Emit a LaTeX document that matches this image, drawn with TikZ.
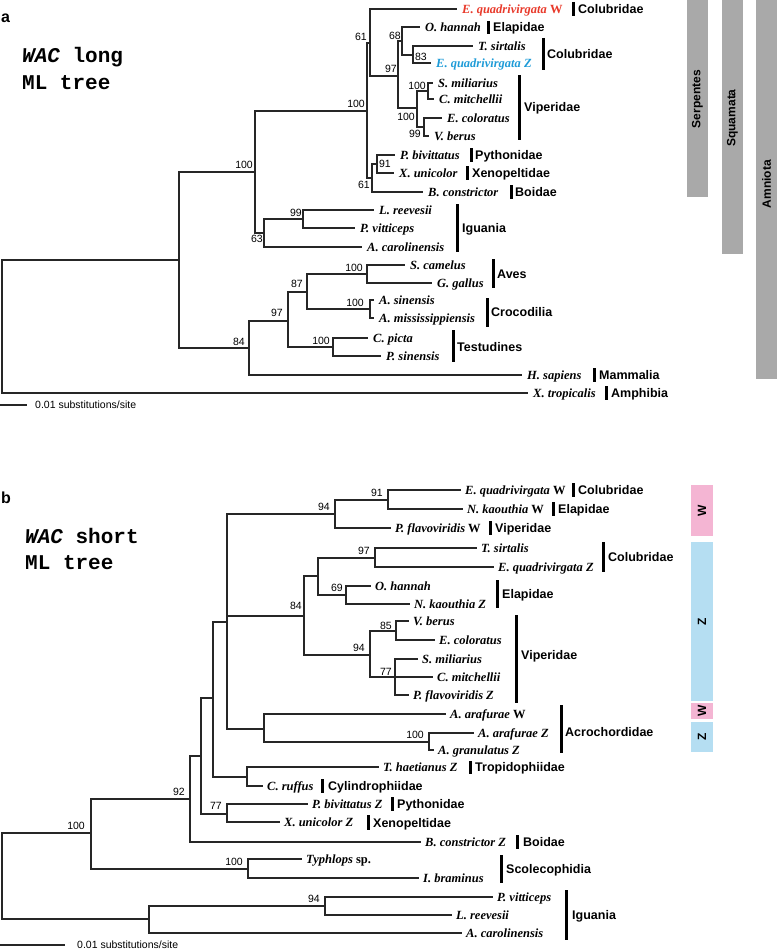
\documentclass[tikz,border=0pt]{standalone}
\usepackage{fontspec}
\setmainfont{Liberation Serif}
\setsansfont{Liberation Sans}
\setmonofont{Liberation Mono}
\definecolor{wred}{HTML}{E8392A}
\definecolor{zblue}{HTML}{1E9BD7}
\definecolor{wpink}{HTML}{F4B5D3}
\definecolor{zsky}{HTML}{B5DEF2}
\definecolor{cladegray}{HTML}{A9A9A9}

\begin{document}
\begin{tikzpicture}[x=1pt, y=-1pt,
    br/.style={line width=1.1pt, black!85},
    sp/.style={anchor=west, inner sep=0pt, text height=8.5pt, text depth=0pt, font=\fontsize{12.5}{14}\selectfont\bfseries\itshape},
    fam/.style={anchor=west, inner sep=0pt, text height=9pt, text depth=0pt, font=\fontsize{12.5}{14}\selectfont\sffamily\bfseries},
    bs/.style={anchor=east, inner sep=0pt, text height=7.5pt, text depth=0pt, font=\fontsize{10.5}{12}\selectfont\sffamily},
    famline/.style={line width=3pt, black},
    title/.style={anchor=west, inner sep=0pt, text height=12pt, text depth=0pt, font=\fontsize{21}{25}\selectfont\ttfamily\bfseries},
    panel/.style={anchor=west, inner sep=0pt, font=\fontsize{16}{18}\selectfont\sffamily\bfseries},
    barlabel/.style={rotate=90, inner sep=0pt, font=\fontsize{12}{14}\selectfont\sffamily\bfseries},
    scaletext/.style={anchor=west, inner sep=0pt, font=\fontsize{10.5}{12}\selectfont\sffamily}]
  \useasboundingbox (0,0) rectangle (777,950);

  % ---------------- panel a ----------------
  \node[panel] (pa) at (1,18) {a};
  \node[title] (ta1) at (22,57) {\textit{WAC} long};
  \node[title] (ta2) at (22,83) {ML tree};

  % clade bars
  \fill[cladegray] (687,0) rectangle (708,197);
  \fill[cladegray] (722,0) rectangle (743,254);
  \fill[cladegray] (756,0) rectangle (777,379);
  \node[barlabel] (serp) at (697.5,99) {Serpentes};
  \node[barlabel] (squa) at (732.5,118) {Squamata};
  \node[barlabel] (amni) at (766.5,184) {Amniota};

  % inner nodes
  \coordinate (a-root) at (2,326);
  \coordinate (a-amn) at (179,260);
  \coordinate (a-sqm) at (255,172);
  \coordinate (a-srp) at (367,111);
  \coordinate (a-cl1) at (370,43);
  \coordinate (a-cl2) at (398,76);
  \coordinate (a-cl3) at (402,41);
  \coordinate (a-col) at (413,55);
  \coordinate (a-vip) at (417,108);
  \coordinate (a-vp1) at (428,91);
  \coordinate (a-vp2) at (424,127);
  \coordinate (a-hen) at (372,178);
  \coordinate (a-pyx) at (377,164);
  \coordinate (a-igu) at (264,233);
  \coordinate (a-ig1) at (303,219);
  \coordinate (a-arc) at (249,348);
  \coordinate (a-ar1) at (288,321);
  \coordinate (a-ar2) at (307,292);
  \coordinate (a-ave) at (367,274);
  \coordinate (a-cro) at (370,309);
  \coordinate (a-tes) at (333,347);

  % taxa
  \node[sp, text=wred] (a-eqw) at (462,9) {E. quadrivirgata \textup{W}};
  \node[sp] (a-ohn) at (425,27) {O. hannah};
  \node[sp] (a-tsi) at (478,46) {T. sirtalis};
  \node[sp, text=zblue] (a-eqz) at (436,63) {E. quadrivirgata Z};
  \node[sp] (a-smi) at (438,83) {S. miliarius};
  \node[sp] (a-cmi) at (439,99) {C. mitchellii};
  \node[sp] (a-eco) at (447,118) {E. coloratus};
  \node[sp] (a-vbe) at (434,136) {V. berus};
  \node[sp] (a-pbi) at (400,155) {P. bivittatus};
  \node[sp] (a-xun) at (399,173) {X. unicolor};
  \node[sp] (a-bco) at (428,192) {B. constrictor};
  \node[sp] (a-lre) at (379,210) {L. reevesii};
  \node[sp] (a-pvi) at (360,228) {P. vitticeps};
  \node[sp] (a-aca) at (367,247) {A. carolinensis};
  \node[sp] (a-sca) at (410,265) {S. camelus};
  \node[sp] (a-gga) at (437,283) {G. gallus};
  \node[sp] (a-asi) at (379,300) {A. sinensis};
  \node[sp] (a-ami) at (379,318) {A. mississippiensis};
  \node[sp] (a-cpi) at (373,338) {C. picta};
  \node[sp] (a-psi) at (386,356) {P. sinensis};
  \node[sp] (a-hsa) at (527,375) {H. sapiens};
  \node[sp] (a-xtr) at (533,393) {X. tropicalis};

  % branches
  \draw[br] (a-root) |- (a-amn);
  \draw[br] (a-root) |- ([xshift=-5pt]a-xtr.west);
  \draw[br] (a-amn) |- (a-sqm);
  \draw[br] (a-amn) |- (a-arc);
  \draw[br] (a-sqm) |- (a-srp);
  \draw[br] (a-sqm) |- (a-igu);
  \draw[br] (a-srp) |- (a-cl1);
  \draw[br] (a-srp) |- (a-hen);
  \draw[br] (a-cl1) |- ([xshift=-5pt]a-eqw.west);
  \draw[br] (a-cl1) |- (a-cl2);
  \draw[br] (a-cl2) |- (a-cl3);
  \draw[br] (a-cl2) |- (a-vip);
  \draw[br] (a-cl3) |- ([xshift=-5pt]a-ohn.west);
  \draw[br] (a-cl3) |- (a-col);
  \draw[br] (a-col) |- ([xshift=-5pt]a-tsi.west);
  \draw[br] (a-col) |- ([xshift=-5pt]a-eqz.west);
  \draw[br] (a-vip) |- (a-vp1);
  \draw[br] (a-vip) |- (a-vp2);
  \draw[br] (a-vp1) |- ([xshift=-5pt]a-smi.west);
  \draw[br] (a-vp1) |- ([xshift=-5pt]a-cmi.west);
  \draw[br] (a-vp2) |- ([xshift=-5pt]a-eco.west);
  \draw[br] (a-vp2) |- ([xshift=-5pt]a-vbe.west);
  \draw[br] (a-hen) |- (a-pyx);
  \draw[br] (a-hen) |- ([xshift=-5pt]a-bco.west);
  \draw[br] (a-pyx) |- ([xshift=-5pt]a-pbi.west);
  \draw[br] (a-pyx) |- ([xshift=-5pt]a-xun.west);
  \draw[br] (a-igu) |- (a-ig1);
  \draw[br] (a-igu) |- ([xshift=-5pt]a-aca.west);
  \draw[br] (a-ig1) |- ([xshift=-5pt]a-lre.west);
  \draw[br] (a-ig1) |- ([xshift=-5pt]a-pvi.west);
  \draw[br] (a-arc) |- (a-ar1);
  \draw[br] (a-arc) |- ([xshift=-5pt]a-hsa.west);
  \draw[br] (a-ar1) |- (a-ar2);
  \draw[br] (a-ar1) |- (a-tes);
  \draw[br] (a-ar2) |- (a-ave);
  \draw[br] (a-ar2) |- (a-cro);
  \draw[br] (a-ave) |- ([xshift=-5pt]a-sca.west);
  \draw[br] (a-ave) |- ([xshift=-5pt]a-gga.west);
  \draw[br] (a-cro) |- ([xshift=-5pt]a-asi.west);
  \draw[br] (a-cro) |- ([xshift=-5pt]a-ami.west);
  \draw[br] (a-tes) |- ([xshift=-5pt]a-cpi.west);
  \draw[br] (a-tes) |- ([xshift=-5pt]a-psi.west);

  % support values
  \node[bs] (a-s1) at (253,165) {100};
  \node[bs] (a-s2) at (365,104) {100};
  \node[bs] (a-s3) at (367,37) {61};
  \node[bs] (a-s4) at (397,69) {97};
  \node[bs] (a-s5) at (401,36) {68};
  \node[bs] (a-s6) at (427,57) {83};
  \node[bs] (a-s7) at (426,86) {100};
  \node[bs] (a-s8) at (415,117) {100};
  \node[bs] (a-s9) at (421,134) {99};
  \node[bs] (a-s10) at (391,164) {91};
  \node[bs] (a-s11) at (370,185) {61};
  \node[bs] (a-s12) at (302,213) {99};
  \node[bs] (a-s13) at (263,239) {63};
  \node[bs] (a-s14) at (245,342) {84};
  \node[bs] (a-s15) at (283,313) {97};
  \node[bs] (a-s16) at (303,284) {87};
  \node[bs] (a-s17) at (363,268) {100};
  \node[bs] (a-s18) at (364,303) {100};
  \node[bs] (a-s19) at (330,341) {100};

  % families
  \draw[famline] (573,2) -- (573,16);   \node[fam] (a-f1) at (578,9) {Colubridae};
  \draw[famline] (488,21) -- (488,34);  \node[fam] (a-f2) at (493,27) {Elapidae};
  \draw[famline] (543,38) -- (543,70);  \node[fam] (a-f3) at (547,54) {Colubridae};
  \draw[famline] (519,75) -- (519,140); \node[fam] (a-f4) at (524,107) {Viperidae};
  \draw[famline] (471,148) -- (471,162); \node[fam] (a-f5) at (475,155) {Pythonidae};
  \draw[famline] (467,166) -- (467,180); \node[fam] (a-f6) at (472,173) {Xenopeltidae};
  \draw[famline] (511,185) -- (511,199); \node[fam] (a-f7) at (515,192) {Boidae};
  \draw[famline] (457,204) -- (457,252); \node[fam] (a-f8) at (462,228) {Iguania};
  \draw[famline] (493,259) -- (493,288); \node[fam] (a-f9) at (497,274) {Aves};
  \draw[famline] (487,298) -- (487,327); \node[fam] (a-f10) at (491,312) {Crocodilia};
  \draw[famline] (453,330) -- (453,362); \node[fam] (a-f11) at (457,347) {Testudines};
  \draw[famline] (594,368) -- (594,382); \node[fam] (a-f12) at (599,375) {Mammalia};
  \draw[famline] (606,386) -- (606,400); \node[fam] (a-f13) at (611,393) {Amphibia};

  % scale
  \coordinate (a-sc0) at (0,405);
  \coordinate (a-sc1) at (27,405);
  \draw[br] (a-sc0) -- (a-sc1);
  \node[scaletext] (a-sct) at (35,405) {0.01 substitutions/site};

  % ---------------- panel b ----------------
  \node[panel] (pb) at (1,498) {b};
  \node[title] (tb1) at (25,537) {\textit{WAC} short};
  \node[title] (tb2) at (25,563) {ML tree};

  % chromosome bars
  \fill[wpink] (691,485) rectangle (713,536);
  \fill[zsky] (691,542) rectangle (713,701);
  \fill[wpink] (691,703) rectangle (713,719);
  \fill[zsky] (691,722) rectangle (713,752);
  \node[barlabel] (w1) at (702,510.5) {W};
  \node[barlabel] (z1) at (702,621.5) {Z};
  \node[barlabel] (w2) at (702,711) {W};
  \node[barlabel] (z2) at (702,737) {Z};

  % inner nodes
  \coordinate (b-root) at (2,876);
  \coordinate (b-snk) at (91,833);
  \coordinate (b-alt) at (190,799);
  \coordinate (b-n1) at (201,756);
  \coordinate (b-n2) at (213,698);
  \coordinate (b-cae) at (227,622);
  \coordinate (b-wgr) at (335,514);
  \coordinate (b-w1) at (388,500);
  \coordinate (b-zgr) at (304,616);
  \coordinate (b-ce) at (318,576);
  \coordinate (b-col) at (375,558);
  \coordinate (b-ela) at (346,595);
  \coordinate (b-vip) at (370,655);
  \coordinate (b-vp1) at (396,631);
  \coordinate (b-vp2) at (395,677);
  \coordinate (b-acr) at (264,729);
  \coordinate (b-ac1) at (429,742);
  \coordinate (b-tc) at (247,777);
  \coordinate (b-pyx) at (227,814);
  \coordinate (b-sco) at (248,869);
  \coordinate (b-igu) at (149,919);
  \coordinate (b-ig1) at (325,906);

  % taxa
  \node[sp] (b-eqw) at (465,490) {E. quadrivirgata \textup{W}};
  \node[sp] (b-nkw) at (467,509) {N. kaouthia \textup{W}};
  \node[sp] (b-pfw) at (395,528) {P. flavoviridis \textup{W}};
  \node[sp] (b-tsi) at (481,548) {T. sirtalis};
  \node[sp] (b-eqz) at (498,567) {E. quadrivirgata Z};
  \node[sp] (b-ohn) at (375,586) {O. hannah};
  \node[sp] (b-nkz) at (414,604) {N. kaouthia Z};
  \node[sp] (b-vbe) at (413,621) {V. berus};
  \node[sp] (b-eco) at (439,640) {E. coloratus};
  \node[sp] (b-smi) at (422,659) {S. miliarius};
  \node[sp] (b-cmi) at (437,677) {C. mitchellii};
  \node[sp] (b-pfz) at (413,695) {P. flavoviridis Z};
  \node[sp] (b-aaw) at (450,714) {A. arafurae \textup{W}};
  \node[sp] (b-aaz) at (478,733) {A. arafurae Z};
  \node[sp] (b-agz) at (438,750) {A. granulatus Z};
  \node[sp] (b-thz) at (383,767) {T. haetianus Z};
  \node[sp] (b-cru) at (267,786) {C. ruffus};
  \node[sp] (b-pbz) at (312,804) {P. bivittatus Z};
  \node[sp] (b-xuz) at (284,822) {X. unicolor Z};
  \node[sp] (b-bcz) at (425,842) {B. constrictor Z};
  \node[sp] (b-typ) at (306,859) {Typhlops \textup{sp.}};
  \node[sp] (b-ibr) at (423,878) {I. braminus};
  \node[sp] (b-pvi) at (497,897) {P. vitticeps};
  \node[sp] (b-lre) at (456,915) {L. reevesii};
  \node[sp] (b-aca) at (466,933) {A. carolinensis};

  % branches
  \draw[br] (b-root) |- (b-snk);
  \draw[br] (b-root) |- (b-igu);
  \draw[br] (b-snk) |- (b-alt);
  \draw[br] (b-snk) |- (b-sco);
  \draw[br] (b-alt) |- (b-n1);
  \draw[br] (b-alt) |- ([xshift=-4pt]b-bcz.west);
  \draw[br] (b-n1) |- (b-n2);
  \draw[br] (b-n1) |- (b-pyx);
  \draw[br] (b-n2) |- (b-cae);
  \draw[br] (b-n2) |- (b-tc);
  \draw[br] (b-cae) |- (b-wgr);
  \draw[br] (b-cae) |- (b-zgr);
  \draw[br] (b-cae) |- (b-acr);
  \draw[br] (b-wgr) |- (b-w1);
  \draw[br] (b-wgr) |- ([xshift=-4pt]b-pfw.west);
  \draw[br] (b-w1) |- ([xshift=-4pt]b-eqw.west);
  \draw[br] (b-w1) |- ([xshift=-4pt]b-nkw.west);
  \draw[br] (b-zgr) |- (b-ce);
  \draw[br] (b-zgr) |- (b-vip);
  \draw[br] (b-ce) |- (b-col);
  \draw[br] (b-ce) |- (b-ela);
  \draw[br] (b-col) |- ([xshift=-4pt]b-tsi.west);
  \draw[br] (b-col) |- ([xshift=-4pt]b-eqz.west);
  \draw[br] (b-ela) |- ([xshift=-4pt]b-ohn.west);
  \draw[br] (b-ela) |- ([xshift=-4pt]b-nkz.west);
  \draw[br] (b-vip) |- (b-vp1);
  \draw[br] (b-vip) |- (b-vp2);
  \draw[br] (b-vp1) |- ([xshift=-4pt]b-vbe.west);
  \draw[br] (b-vp1) |- ([xshift=-4pt]b-eco.west);
  \draw[br] (b-vp2) |- ([xshift=-4pt]b-smi.west);
  \draw[br] (b-vp2) |- ([xshift=-4pt]b-cmi.west);
  \draw[br] (b-vp2) |- ([xshift=-4pt]b-pfz.west);
  \draw[br] (b-acr) |- ([xshift=-4pt]b-aaw.west);
  \draw[br] (b-acr) |- (b-ac1);
  \draw[br] (b-ac1) |- ([xshift=-4pt]b-aaz.west);
  \draw[br] (b-ac1) |- ([xshift=-4pt]b-agz.west);
  \draw[br] (b-tc) |- ([xshift=-4pt]b-thz.west);
  \draw[br] (b-tc) |- ([xshift=-4pt]b-cru.west);
  \draw[br] (b-pyx) |- ([xshift=-4pt]b-pbz.west);
  \draw[br] (b-pyx) |- ([xshift=-4pt]b-xuz.west);
  \draw[br] (b-sco) |- ([xshift=-4pt]b-typ.west);
  \draw[br] (b-sco) |- ([xshift=-4pt]b-ibr.west);
  \draw[br] (b-igu) |- (b-ig1);
  \draw[br] (b-igu) |- ([xshift=-4pt]b-aca.west);
  \draw[br] (b-ig1) |- ([xshift=-4pt]b-pvi.west);
  \draw[br] (b-ig1) |- ([xshift=-4pt]b-lre.west);

  % support values
  \node[bs] (b-s1) at (85,826) {100};
  \node[bs] (b-s2) at (185,792) {92};
  \node[bs] (b-s3) at (243,862) {100};
  \node[bs] (b-s4) at (222,806) {77};
  \node[bs] (b-s5) at (330,507) {94};
  \node[bs] (b-s6) at (383,493) {91};
  \node[bs] (b-s7) at (302,606) {84};
  \node[bs] (b-s8) at (370,551) {97};
  \node[bs] (b-s9) at (343,588) {69};
  \node[bs] (b-s10) at (365,648) {94};
  \node[bs] (b-s11) at (392,626) {85};
  \node[bs] (b-s12) at (392,672) {77};
  \node[bs] (b-s13) at (424,735) {100};
  \node[bs] (b-s14) at (320,899) {94};

  % families
  \draw[famline] (573,483) -- (573,497); \node[fam] (b-f1) at (578,490) {Colubridae};
  \draw[famline] (553,502) -- (553,516); \node[fam] (b-f2) at (558,509) {Elapidae};
  \draw[famline] (490,521) -- (490,535); \node[fam] (b-f3) at (495,528) {Viperidae};
  \draw[famline] (603,542) -- (603,572); \node[fam] (b-f4) at (608,557) {Colubridae};
  \draw[famline] (497,580) -- (497,608); \node[fam] (b-f5) at (502,594) {Elapidae};
  \draw[famline] (516,615) -- (516,703); \node[fam] (b-f6) at (521,655) {Viperidae};
  \draw[famline] (561,705) -- (561,753); \node[fam] (b-f7) at (565,732) {Acrochordidae};
  \draw[famline] (470,761) -- (470,774); \node[fam] (b-f8) at (475,767) {Tropidophiidae};
  \draw[famline] (322,779) -- (322,793); \node[fam] (b-f9) at (328,786) {Cylindrophiidae};
  \draw[famline] (392,797) -- (392,811); \node[fam] (b-f10) at (397,804) {Pythonidae};
  \draw[famline] (368,815) -- (368,830); \node[fam] (b-f11) at (373,823) {Xenopeltidae};
  \draw[famline] (517,835) -- (517,849); \node[fam] (b-f12) at (523,842) {Boidae};
  \draw[famline] (501,855) -- (501,883); \node[fam] (b-f13) at (506,869) {Scolecophidia};
  \draw[famline] (566,890) -- (566,940); \node[fam] (b-f14) at (572,915) {Iguania};

  % scale
  \coordinate (b-sc0) at (0,945);
  \coordinate (b-sc1) at (65,945);
  \draw[br] (b-sc0) -- (b-sc1);
  \node[scaletext] (b-sct) at (77,945) {0.01 substitutions/site};
\end{tikzpicture}
\end{document}
